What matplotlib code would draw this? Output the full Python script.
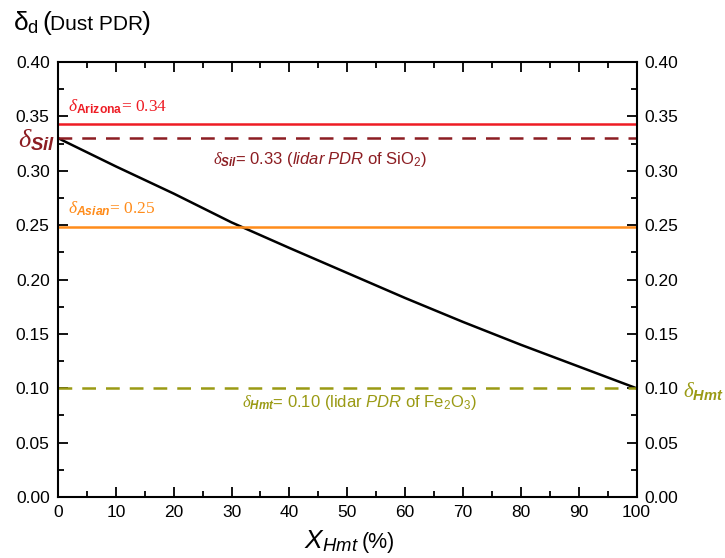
import numpy as np
import matplotlib
matplotlib.use("Agg")
import matplotlib.pyplot as plt
from matplotlib.ticker import MultipleLocator

plt.rcParams['font.family'] = ['Liberation Sans', 'DejaVu Sans']
plt.rcParams['mathtext.fontset'] = 'custom'
plt.rcParams['mathtext.rm'] = 'Liberation Sans'
plt.rcParams['mathtext.it'] = 'Liberation Serif:italic'
plt.rcParams['mathtext.bf'] = 'Liberation Sans:bold'
plt.rcParams['mathtext.sf'] = 'Liberation Sans:italic:bold'
plt.rcParams['mathtext.cal'] = 'Liberation Sans:italic'

# Data
x_hmt = [0, 10, 20, 30, 40, 50, 60, 70, 80, 90, 100]
delta_mix = [0.330, 0.304, 0.279, 0.2525, 0.229, 0.206, 0.183, 0.161, 0.140, 0.120, 0.100]
delta_arizona = 0.343
delta_sil = 0.330
delta_asian = 0.248
delta_hmt = 0.100

x_ticks = [0, 10, 20, 30, 40, 50, 60, 70, 80, 90, 100]
y_ticks = [0.00, 0.05, 0.10, 0.15, 0.20, 0.25, 0.30, 0.35, 0.40]

c_red = '#ee1c24'
c_dred = '#8c1d22'
c_orange = '#ff8c1a'
c_olive = '#9a9a14'

fig = plt.figure(figsize=(7.25, 5.58), dpi=100)
ax = fig.add_axes([58/725, 1-497/558, (636.5-58)/725, (497-62)/558])

ax.plot(x_hmt, delta_mix, color='black', lw=1.8)
ax.axhline(delta_arizona, color=c_red, lw=1.8)
ax.axhline(delta_sil, color=c_dred, lw=1.8, ls=(0, (5.5, 4)))
ax.axhline(delta_asian, color=c_orange, lw=1.8)
ax.axhline(delta_hmt, color=c_olive, lw=1.8, ls=(0, (5.5, 4)))

ax.set_xlim(0, 100)
ax.set_ylim(0, 0.40)
ax.set_xticks(x_ticks)
ax.set_yticks(y_ticks)
ax.set_xticklabels([str(v) for v in x_ticks])
ax.set_yticklabels([f"{v:.2f}" for v in y_ticks])
ax.xaxis.set_minor_locator(MultipleLocator(5))
ax.yaxis.set_minor_locator(MultipleLocator(0.025))
ax.tick_params(which='both', direction='in', top=True, right=True, labelright=True,
               width=1.3, labelsize=12.5, colors='black')
ax.tick_params(which='major', length=7, pad=6)
ax.tick_params(which='minor', length=4)
for s in ax.spines.values():
    s.set_linewidth(1.5)

# annotations inside
ax.text(1.7, 0.354, r'$\delta_{\mathbf{Arizona}}$= 0.34', color=c_red, fontsize=12.5,
        family='Liberation Serif', va='baseline')
ax.text(1.7, 0.261, r'$\delta_{\mathsf{Asian}}$= 0.25', color=c_orange, fontsize=12.5,
        family='Liberation Serif', va='baseline')
ax.text(26.8, 0.306, r'$\delta_{\mathsf{Sil}}$= 0.33 ($\mathcal{lidar\ PDR}$ of SiO$_{\mathrm{2}}$)',
        color=c_dred, fontsize=12, va='baseline')
ax.text(31.75, 0.0825, r'$\delta_{\mathsf{Hmt}}$= 0.10 (lidar $\mathcal{PDR}$ of Fe$_{\mathrm{2}}$O$_{\mathrm{3}}$)',
        color=c_olive, fontsize=12, va='baseline')

# outside labels
fig.text(18/725, 1-147/558, r'$\delta_{\mathsf{Sil}}$', color=c_dred, fontsize=19,
         fontweight='bold', va='baseline')
fig.text(724/725, 1-397/558, r'$\delta_{\mathsf{Hmt}}$', color=c_olive, fontsize=15,
         va='baseline', ha='right')

fig.text(13/725, 1-30/558, r'$\mathrm{\delta}_{\mathrm{d}}$', fontsize=19, va='baseline')
fig.text(42/725, 1-30/558, '(', fontsize=19, va='baseline')
fig.text(50/725, 1-30/558, 'Dust PDR', fontsize=15, va='baseline')
fig.text(142/725, 1-30/558, ')', fontsize=19, va='baseline')

fig.text(304/725, 1-548/558, r'$\mathcal{X}_{\mathcal{Hmt}}$', fontsize=19, va='baseline')
fig.text(362/725, 1-548/558, '(%)', fontsize=15.5, va='baseline')

fig.savefig('out.png', dpi=100)
